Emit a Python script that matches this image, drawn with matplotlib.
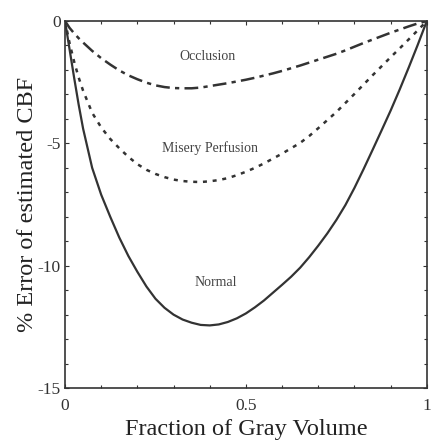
import matplotlib
matplotlib.use("Agg")
import matplotlib.pyplot as plt
from matplotlib.ticker import MultipleLocator, FixedLocator

plt.rcParams['font.family'] = ['Liberation Serif', 'DejaVu Serif']
plt.rcParams['axes.unicode_minus'] = False

frac = [0, 0.0125, 0.025, 0.0375, 0.05, 0.075, 0.1, 0.125, 0.15, 0.175, 0.2,
        0.225, 0.25, 0.275, 0.3, 0.325, 0.35, 0.375, 0.4, 0.425, 0.45, 0.475, 0.5,
        0.525, 0.55, 0.575, 0.6, 0.625, 0.65, 0.675, 0.7, 0.725, 0.75, 0.775, 0.8,
        0.825, 0.85, 0.875, 0.9, 0.925, 0.95, 0.975, 1.0]
normal = [0, -1.15, -2.3, -3.4, -4.4, -6.0, -7.1, -8.0, -8.85, -9.6, -10.25,
          -10.85, -11.35, -11.72, -12.0, -12.2, -12.33, -12.42, -12.44, -12.4, -12.3, -12.15, -11.95,
          -11.7, -11.42, -11.1, -10.78, -10.45, -10.08, -9.65, -9.18, -8.68, -8.13, -7.52, -6.82,
          -6.06, -5.27, -4.47, -3.66, -2.8, -1.9, -0.97, 0]
misery = [0, -0.9, -1.65, -2.3, -2.85, -3.75, -4.35, -4.82, -5.2, -5.55, -5.85,
          -6.08, -6.25, -6.38, -6.48, -6.54, -6.57, -6.58, -6.55, -6.5, -6.42, -6.3, -6.16,
          -6.0, -5.82, -5.62, -5.42, -5.2, -4.98, -4.7, -4.38, -4.05, -3.72, -3.35, -2.98,
          -2.6, -2.22, -1.85, -1.48, -1.12, -0.75, -0.38, 0]
occlusion = [0, -0.28, -0.5, -0.7, -0.88, -1.22, -1.52, -1.78, -2.02, -2.22, -2.38,
             -2.52, -2.63, -2.7, -2.74, -2.75, -2.75, -2.72, -2.66, -2.6, -2.54, -2.47, -2.4,
             -2.32, -2.23, -2.14, -2.04, -1.93, -1.82, -1.7, -1.58, -1.46, -1.34, -1.2, -1.05,
             -0.9, -0.76, -0.62, -0.48, -0.35, -0.22, -0.1, 0]

labels = ["Occlusion", "Misery Perfusion", "Normal"]
label_pos = [(0.395, -1.47), (0.40, -5.2), (0.418, -10.7)]

xticks = [0, 0.5, 1]
xticklabels = ["0", "0.5", "1"]
yticks = [0, -5, -10, -15]
yticklabels = ["0", "-5", "-10", "-15"]

fig = plt.figure(figsize=(4.32, 4.44), dpi=100)
ax = fig.add_axes([0.1505, 0.126, 0.8375, 0.8267])
col = '#333333'
ax.plot(frac, normal, color=col, lw=1.6, ls='-')
ax.plot(frac, misery, color=col, lw=1.8, ls=(0, (1.6, 2.3)))
ax.plot(frac, occlusion, color=col, lw=1.8, ls=(0, (5.5, 2.1, 1.7, 2.1)))

for t, (x, y) in zip(labels, label_pos):
    ax.text(x, y, t, fontsize=10, ha='center', va='center', color='#444444')

ax.set_xlim(0, 1)
ax.set_ylim(-15, 0)
ax.xaxis.set_major_locator(FixedLocator(xticks))
ax.set_xticklabels(xticklabels)
ax.yaxis.set_major_locator(FixedLocator(yticks))
ax.set_yticklabels(yticklabels)
ax.xaxis.set_minor_locator(MultipleLocator(0.1))
ax.yaxis.set_minor_locator(MultipleLocator(1))
ax.tick_params(which='both', direction='in', top=True, right=True, color=col,
               labelcolor='#333333', labelsize=12.5)
ax.tick_params(which='major', length=3, width=0.8)
ax.tick_params(axis='x', which='major', pad=7)
ax.tick_params(axis='y', which='major', pad=3)
ax.tick_params(which='minor', length=2.5, width=0.8)
for s in ax.spines.values():
    s.set_color(col)
    s.set_linewidth(1.2)

ax.set_xlabel("Fraction of Gray Volume", fontsize=17.5, color='#222222', labelpad=4)
ax.set_ylabel("% Error of estimated CBF", fontsize=17.5, color='#222222', labelpad=0)

fig.savefig("out.png", dpi=100)
